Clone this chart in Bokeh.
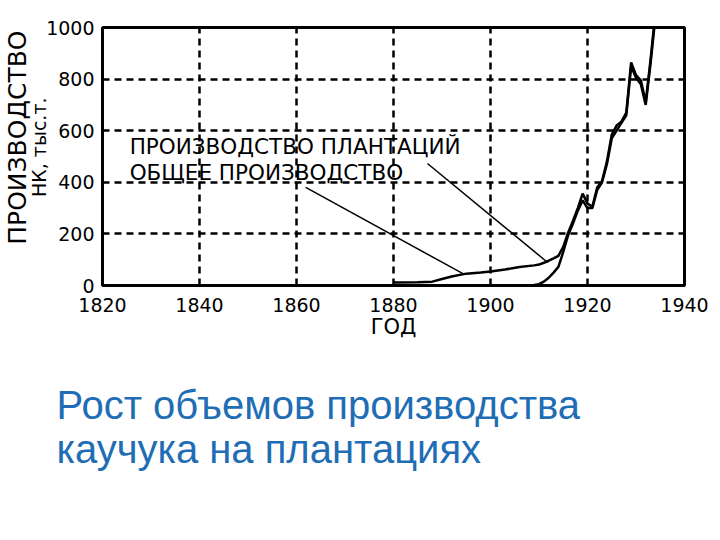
from bokeh.plotting import figure
from bokeh.models import Range1d, FixedTicker, Label, Title
from bokeh.embed import file_html
from bokeh.resources import INLINE

# ---- data ----
total_years = [1880, 1885, 1888, 1890, 1892, 1895, 1898, 1900, 1903, 1906, 1909, 1910,
               1911, 1912, 1913, 1914, 1915, 1916, 1917, 1918, 1919, 1920, 1921, 1922,
               1923, 1924, 1925, 1926, 1927, 1928, 1929, 1930, 1931, 1932, 1933, 1934]
total_prod = [12, 13, 15, 25, 35, 46, 50, 54, 62, 72, 78, 81,
              88, 96, 105, 115, 150, 205, 250, 300, 356, 318, 305, 380,
              405, 480, 585, 620, 635, 670, 865, 815, 795, 710, 875, 1060]

plant_years = [1898, 1905, 1909, 1910, 1911, 1912, 1913, 1914, 1915, 1916, 1917, 1918,
               1919, 1920, 1921, 1922, 1923, 1924, 1925, 1926, 1927, 1928, 1929, 1930,
               1931, 1932, 1933, 1934]
plant_prod = [0, 0, 2, 5, 15, 30, 50, 72, 130, 195, 240, 290,
              330, 300, 300, 370, 400, 470, 570, 600, 630, 660, 850, 805,
              780, 700, 860, 1040]

x_ticks = [1820, 1840, 1860, 1880, 1900, 1920, 1940]
y_ticks = [0, 200, 400, 600, 800, 1000]

label_plant = "ПРОИЗВОДСТВО ПЛАНТАЦИЙ"
label_total = "ОБЩЕЕ ПРОИЗВОДСТВО"
# leader lines: [start (near text), end (on curve)]
leader_plant_x = [1887.0, 1911.8]
leader_plant_y = [473, 89]
leader_total_x = [1861.9, 1894.6]
leader_total_y = [380, 43]

x_title = "ГОД"
y_title = "ПРОИЗВОДСТВО"
y_units = "НК, тыс.т."
caption = ["Рост объемов производства", "каучука на плантациях"]

FONT = "Liberation Sans"
WIDE = "DejaVu Sans"

p = figure(frame_width=582, frame_height=258,
           min_border_left=100, min_border_right=30, min_border_top=27, min_border_bottom=245,
           x_range=Range1d(1820, 1940), y_range=Range1d(0, 1000),
           output_backend="svg", toolbar_location=None, tools="")
p.background_fill_color = "white"
p.border_fill_color = "white"
p.outline_line_color = "black"
p.outline_line_width = 3

for ax in (p.xaxis[0], p.yaxis[0]):
    ax.axis_line_color = None
    ax.major_tick_line_color = None
    ax.minor_tick_line_color = None
    ax.major_tick_out = 0
    ax.major_tick_in = 0
    ax.minor_tick_out = 0
    ax.minor_tick_in = 0
    ax.major_label_text_font = WIDE
    ax.major_label_text_font_size = "19px"
    ax.major_label_text_color = "black"
p.xaxis[0].ticker = FixedTicker(ticks=x_ticks)
p.yaxis[0].ticker = FixedTicker(ticks=y_ticks)
p.xaxis[0].major_label_standoff = 12
p.yaxis[0].major_label_standoff = 8

p.xaxis[0].axis_label = x_title
p.xaxis[0].axis_label_text_font = WIDE
p.xaxis[0].axis_label_text_font_size = "21px"
p.xaxis[0].axis_label_text_font_style = "normal"
p.xaxis[0].axis_label_text_color = "black"
p.xaxis[0].axis_label_standoff = 0

for g in (p.xgrid[0], p.ygrid[0]):
    g.grid_line_color = "black"
    g.grid_line_width = 2.5
    g.grid_line_dash = "7 5"
    g.grid_line_alpha = 1.0

p.line(total_years, total_prod, line_color="black", line_width=2.5)
p.line(plant_years, plant_prod, line_color="black", line_width=2.5)
p.line(leader_plant_x, leader_plant_y, line_color="black", line_width=1.5)
p.line(leader_total_x, leader_total_y, line_color="black", line_width=1.5)

p.add_layout(Label(x=1825.6, y=539, text=label_plant, text_font=WIDE, text_font_size="21.5px",
                   text_color="black", text_baseline="middle", text_align="left"))
p.add_layout(Label(x=1825.6, y=438, text=label_total, text_font=WIDE, text_font_size="21.5px",
                   text_color="black", text_baseline="middle", text_align="left"))

# y-axis titles (placed in the left border)
p.add_layout(Title(text=y_units, text_font=WIDE, text_font_size="19px", text_font_style="normal",
                   text_color="black", align="right", standoff=-12, offset=70), "left")
p.add_layout(Title(text=y_title, text_font=WIDE, text_font_size="25px", text_font_style="normal",
                   text_color="black", align="right", standoff=0, offset=3), "left")

# caption below the chart
p.add_layout(Title(text=caption[0] + "\n" + caption[1], text_font=FONT, text_font_size="40px",
                   text_font_style="normal", text_color="#1f6db5", align="left",
                   offset=-46, standoff=78), "below")

open("out.html", "w").write(file_html(p, INLINE))
